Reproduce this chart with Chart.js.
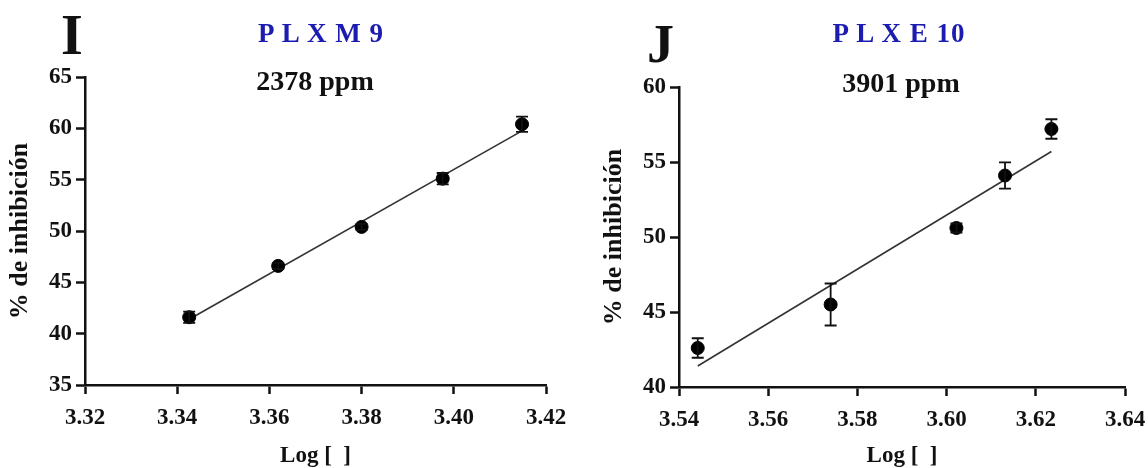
<!DOCTYPE html>
<html>
<head>
<meta charset="utf-8">
<script src="https://cdn.jsdelivr.net/npm/chart.js@4.4.1/dist/chart.umd.min.js"></script>
<style>
  body { margin: 0; background: #fff; width: 1148px; height: 468px; position: relative; overflow: hidden; font-family: "Liberation Serif", serif; }
  .panel { position: absolute; top: 0; width: 574px; height: 468px; }
  .hdr { position: absolute; font-weight: bold; line-height: 1; white-space: pre; color: #111; }
  .letter { font-size: 56px; }
  .name { font-size: 27px; letter-spacing: 1px; color: #1c1cb0; transform: translateX(-50%); }
  .dose { font-size: 28px; transform: translateX(-50%); }
  canvas { position: absolute; top: 0; left: 0; }
</style>
</head>
<body>

<div class="panel" style="left:0">
  <canvas id="chartI" width="574" height="468"></canvas>
  <div class="hdr letter" style="left:61px; top:7px">I</div>
  <div class="hdr name" style="left:321px; top:20px">P L X M 9</div>
  <div class="hdr dose" style="left:315px; top:67px">2378 ppm</div>
</div>

<div class="panel" style="left:574px">
  <canvas id="chartJ" width="574" height="468"></canvas>
  <div class="hdr letter" style="left:73px; top:17px; font-size:54px">J</div>
  <div class="hdr name" style="left:325px; top:20px">P L X E 10</div>
  <div class="hdr dose" style="left:327px; top:69px">3901 ppm</div>
</div>

<script>
// panel I - PLXM 9
var plxmLog = [3.3426, 3.3619, 3.3800, 3.3976, 3.4148];
var plxmInh = [41.6, 46.6, 50.4, 55.1, 60.4];
var plxmErr = [0.55, 0.3, 0.3, 0.55, 0.75];
var plxmFitLog = [3.3426, 3.4148];
var plxmFitInh = [41.4, 59.75];
var plxmXTicks = [3.32, 3.34, 3.36, 3.38, 3.40, 3.42];
var plxmYTicks = [35, 40, 45, 50, 55, 60, 65];

// panel J - PLXE 10
var plxeLog = [3.5442, 3.5740, 3.6022, 3.6131, 3.6235];
var plxeInh = [42.6, 45.5, 50.6, 54.1, 57.2];
var plxeErr = [0.65, 1.4, 0.3, 0.87, 0.65];
var plxeFitLog = [3.5442, 3.6235];
var plxeFitInh = [41.4, 55.7];
var plxeXTicks = [3.54, 3.56, 3.58, 3.60, 3.62, 3.64];
var plxeYTicks = [40, 45, 50, 55, 60];

Chart.defaults.font.family = "'Liberation Serif', 'Times New Roman', serif";
Chart.defaults.color = '#111';

// draws the SEM whiskers of dataset 0
var errorBars = {
    id: 'errorBars',
    afterDatasetsDraw: function(chart) {
        var ds = chart.data.datasets[0];
        if (!ds.errors) return;
        var ctx = chart.ctx;
        var xs = chart.scales.x, ys = chart.scales.y;
        ctx.save();
        ctx.strokeStyle = '#111';
        ctx.lineWidth = 1.8;
        ds.data.forEach(function(p, i) {
            var e = ds.errors[i];
            var px = xs.getPixelForValue(p.x);
            var top = ys.getPixelForValue(p.y + e);
            var bot = ys.getPixelForValue(p.y - e);
            ctx.beginPath();
            ctx.moveTo(px, top); ctx.lineTo(px, bot);
            ctx.moveTo(px - 6, top); ctx.lineTo(px + 6, top);
            ctx.moveTo(px - 6, bot); ctx.lineTo(px + 6, bot);
            ctx.stroke();
        });
        ctx.restore();
    }
};

function makeChart(id, logs, inh, err, fitLog, fitInh, xTicks, yTicks, pad, xHeight, yWidth, yTitlePad) {
    var ctx = document.getElementById(id).getContext('2d');
    var points = logs.map(function(v, i) { return { x: v, y: inh[i] }; });
    var fit = fitLog.map(function(v, i) { return { x: v, y: fitInh[i] }; });

    return new Chart(ctx, {
        type: 'scatter',
        data: {
            datasets: [{
                data: points,
                errors: err,
                backgroundColor: '#000',
                borderColor: '#000',
                pointRadius: 6.5,
                pointHoverRadius: 6.5,
                order: 0
            }, {
                type: 'line',
                data: fit,
                borderColor: '#333',
                borderWidth: 1.6,
                pointRadius: 0,
                fill: false,
                order: 1
            }]
        },
        options: {
            responsive: false,
            animation: false,
            layout: { padding: pad },
            plugins: { legend: { display: false }, tooltip: { enabled: false } },
            scales: {
                x: {
                    type: 'linear',
                    min: xTicks[0],
                    max: xTicks[xTicks.length - 1],
                    afterBuildTicks: function(s) { s.ticks = xTicks.map(function(v) { return { value: v }; }); },
                    afterFit: function(s) { s.height = xHeight; s.paddingLeft = 0; s.paddingRight = 0; },
                    border: { display: true, color: '#111', width: 2.5 },
                    grid: { display: true, drawOnChartArea: false, drawTicks: true, tickLength: 9, tickWidth: 2.5, tickColor: '#111' },
                    ticks: {
                        color: '#111', padding: 10, maxRotation: 0, autoSkip: false,
                        font: { size: 23, weight: 'bold' },
                        callback: function(v) { return v.toFixed(2); }
                    },
                    title: {
                        display: true, text: 'Log [  ]', color: '#111',
                        font: { size: 23, weight: 'bold' }, padding: { top: 0, bottom: -2 }
                    }
                },
                y: {
                    type: 'linear',
                    min: yTicks[0],
                    max: yTicks[yTicks.length - 1],
                    afterBuildTicks: function(s) { s.ticks = yTicks.map(function(v) { return { value: v }; }); },
                    afterFit: function(s) { s.width = yWidth; s.paddingTop = 0; s.paddingBottom = 0; },
                    border: { display: true, color: '#111', width: 2.5 },
                    grid: { display: true, drawOnChartArea: false, drawTicks: true, tickLength: 9, tickWidth: 2.5, tickColor: '#111' },
                    ticks: {
                        color: '#111', padding: 4, autoSkip: false,
                        font: { size: 23, weight: 'bold' }
                    },
                    title: {
                        display: true, text: '% de inhibición', color: '#111',
                        font: { size: 26, weight: 'bold' }, padding: { top: yTitlePad, bottom: 0 }
                    }
                }
            }
        },
        plugins: [errorBars]
    });
}

makeChart('chartI', plxmLog, plxmInh, plxmErr, plxmFitLog, plxmFitInh, plxmXTicks, plxmYTicks,
    { top: 77, right: 28, bottom: 0, left: 0 }, 83, 85, 5);
makeChart('chartJ', plxeLog, plxeInh, plxeErr, plxeFitLog, plxeFitInh, plxeXTicks, plxeYTicks,
    { top: 87, right: 23, bottom: 0, left: 20 }, 81, 85, 5);
</script>
</body>
</html>
